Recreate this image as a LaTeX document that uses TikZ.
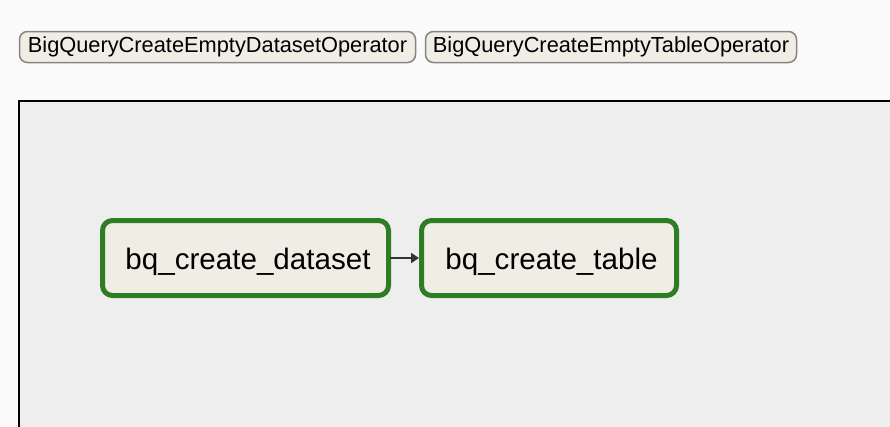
\documentclass[tikz,border=0pt]{standalone}
\usepackage{fontspec}
\setmainfont{Liberation Sans}
\usetikzlibrary{arrows.meta}
\definecolor{pagebg}{HTML}{FAFAFA}
\definecolor{framebg}{HTML}{EEEEEE}
\definecolor{opfill}{HTML}{F0EEE4}
\definecolor{okgreen}{RGB}{47,125,35}
\definecolor{legendline}{HTML}{858585}
\definecolor{edgecol}{HTML}{333333}
\newcommand{\tasklabel}[1]{\hspace*{5pt}#1}
\tikzset{
  legendbox/.style={draw=legendline, fill=opfill, line width=1.5pt, rounded corners=8pt,
    inner sep=0pt, minimum height=31pt, font=\fontsize{21.8}{24}\selectfont},
  taskbox/.style={draw=okgreen, fill=opfill, line width=5pt, rounded corners=10pt,
    inner sep=0pt, minimum height=75pt, text height=26pt, text depth=2.8pt,
    font=\fontsize{29.6}{32}\selectfont},
  edge/.style={draw=edgecol, line width=2pt, -{Triangle[length=8pt,width=10pt]}},
}
\begin{document}
\begin{tikzpicture}[x=1pt,y=1pt]
\useasboundingbox (0,0) rectangle (890,-426);
\fill[pagebg] (0,0) rectangle (890,-426);
\begin{scope}
\clip (0,0) rectangle (890,-426);
\draw[fill=framebg, line width=2.5pt] (19,-101) rectangle (905,-445);
\end{scope}
\node[legendbox, minimum width=396pt] (lg1) at (217.5,-47) {BigQueryCreateEmptyDatasetOperator};
\node[legendbox, minimum width=371pt] (lg2) at (611,-47) {BigQueryCreateEmptyTableOperator};
\node[taskbox, minimum width=286pt] (ds) at (245.5,-258) {\tasklabel{bq\_create\_dataset}};
\node[taskbox, minimum width=255pt] (tb) at (549,-258) {\tasklabel{bq\_create\_table}};
\draw[edge] (ds.east) ++(-1.5pt,0) coordinate (dsout) -- (tb.west);
\end{tikzpicture}
\end{document}
